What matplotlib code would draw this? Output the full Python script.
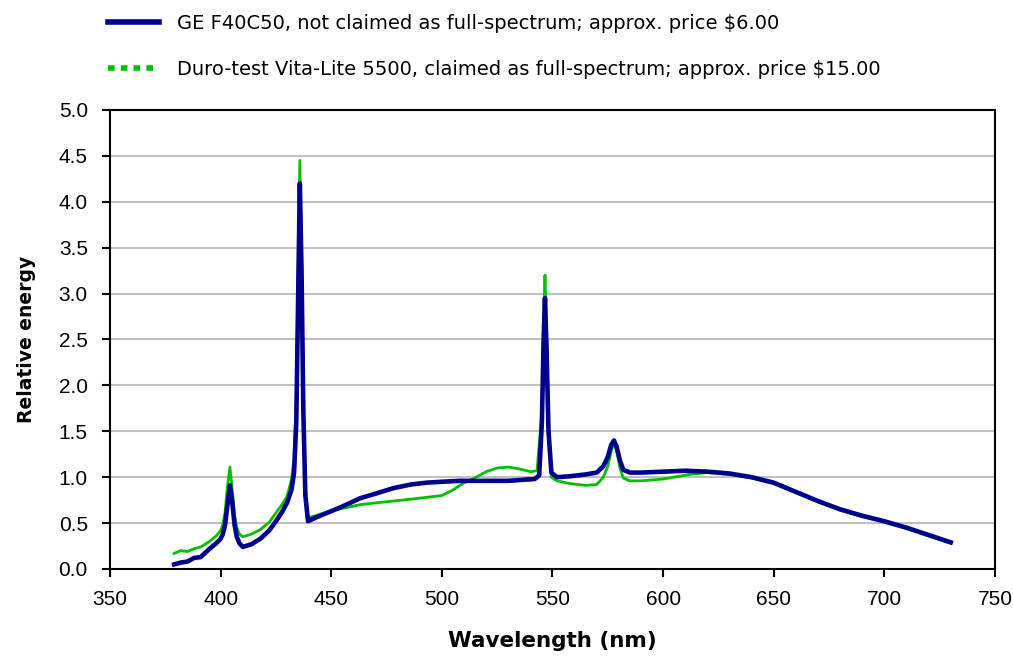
import matplotlib.pyplot as plt
from matplotlib.lines import Line2D

plt.rcParams['font.family'] = ['Liberation Sans', 'DejaVu Sans']

# GE F40C50 (not full-spectrum)
ge_nm = [379, 382, 385, 388, 391, 395, 398, 400, 401, 402, 403, 404.2, 405.3, 406.3, 407.3, 408.5, 410,
         414, 418, 422, 425, 428, 430, 432, 433.2, 434.2, 435, 435.8, 436.6, 437.4, 438.3, 439.5,
         443, 448, 455, 463, 470, 478, 486, 493, 500, 508, 515, 522, 530, 536, 542, 544, 545.2, 546,
         546.6, 547.3, 548.2, 549.5, 552, 558, 565, 570, 573, 575, 576.5, 577.8, 579, 580.5, 582, 585,
         590, 600, 610, 620, 630, 640, 650, 660, 670, 680, 690, 700, 710, 720, 730]
ge_energy = [0.05, 0.07, 0.08, 0.12, 0.13, 0.22, 0.28, 0.33, 0.38, 0.48, 0.68, 0.91, 0.72, 0.48, 0.35, 0.28, 0.24,
             0.27, 0.33, 0.42, 0.52, 0.63, 0.72, 0.86, 1.05, 1.6, 2.9, 4.2, 3.2, 1.7, 0.8, 0.52,
             0.56, 0.61, 0.68, 0.77, 0.82, 0.88, 0.92, 0.94, 0.95, 0.96, 0.96, 0.96, 0.96, 0.97, 0.98, 1.02, 1.6, 2.5,
             2.95, 2.4, 1.5, 1.05, 1.0, 1.01, 1.03, 1.05, 1.12, 1.22, 1.35, 1.40, 1.33, 1.18, 1.08, 1.05,
             1.05, 1.06, 1.07, 1.06, 1.04, 1.0, 0.94, 0.84, 0.74, 0.65, 0.58, 0.52, 0.45, 0.37, 0.29]

# Duro-test Vita-Lite 5500 (full-spectrum)
vl_nm = [379, 382, 385, 388, 391, 395, 398, 400, 401, 402, 403, 404.2, 405.3, 406.3, 407.3, 408.5, 410,
         414, 418, 422, 425, 428, 430, 432, 433.2, 434.2, 435, 435.8, 436.6, 437.4, 438.3, 439.5,
         443, 448, 455, 463, 470, 478, 486, 493, 500, 505, 510, 514, 520, 525, 530, 535, 540, 543, 545.2, 546,
         546.6, 547.3, 548.2, 549.5, 552, 558, 565, 570, 573, 575, 576.5, 577.8, 579, 580.5, 582, 585,
         590, 600, 605, 612, 620, 630, 640, 650, 660, 670, 680, 690, 700, 710, 720, 730]
vl_energy = [0.17, 0.20, 0.19, 0.22, 0.24, 0.30, 0.36, 0.42, 0.48, 0.62, 0.88, 1.11, 0.85, 0.58, 0.45, 0.38, 0.35,
             0.38, 0.43, 0.51, 0.61, 0.71, 0.79, 0.97, 1.2, 1.9, 3.2, 4.45, 3.4, 1.8, 0.85, 0.56,
             0.58, 0.62, 0.66, 0.70, 0.72, 0.74, 0.76, 0.78, 0.80, 0.86, 0.94, 0.98, 1.06, 1.10, 1.11, 1.09, 1.06, 1.07, 1.7, 2.7,
             3.2, 2.6, 1.6, 1.0, 0.96, 0.93, 0.91, 0.92, 1.0, 1.12, 1.28, 1.37, 1.28, 1.1, 0.99, 0.96,
             0.96, 0.98, 1.0, 1.03, 1.05, 1.03, 0.99, 0.93, 0.83, 0.73, 0.64, 0.57, 0.51, 0.44, 0.36, 0.28]

ge_label = 'GE F40C50, not claimed as full-spectrum; approx. price $6.00'
vl_label = 'Duro-test Vita-Lite 5500, claimed as full-spectrum; approx. price $15.00'

blue = '#00008C'
green = '#00C000'

fig = plt.figure(figsize=(10.13, 6.57), dpi=100)
ax = fig.add_axes([0.1086, 0.134, 0.8736, 0.6986])

ax.plot(vl_nm, vl_energy, color=green, lw=2, zorder=3)
ax.plot(ge_nm, ge_energy, color=blue, lw=3.3, zorder=4)

ax.set_xlim(350, 750)
ax.set_ylim(0, 5)
ax.set_xticks(range(350, 751, 50))
ax.set_yticks([i * 0.5 for i in range(11)])
ax.set_yticklabels([f'{i * 0.5:.1f}' for i in range(11)])
ax.yaxis.grid(True, color='#C0C0C0', lw=1.5)
ax.set_axisbelow(True)
ax.tick_params(direction='out', length=6, width=1.5, labelsize=15)
ax.tick_params(axis='x', pad=9)
ax.tick_params(axis='y', pad=10)
for s in ax.spines.values():
    s.set_linewidth(1.5)

ax.set_xlabel('Wavelength (nm)', fontsize=15.5, fontweight='bold', family='DejaVu Sans', labelpad=16)
ax.set_ylabel('Relative energy', fontsize=13.5, fontweight='bold', family='DejaVu Sans', labelpad=16)

handles = [Line2D([], [], color=blue, lw=4),
           Line2D([], [], color=green, lw=4, linestyle=(0, (1.2, 1.1)))]
fig.legend(handles, [ge_label, vl_label], loc='upper left', bbox_to_anchor=(108 / 1013, 1 - 14 / 657),
           frameon=False, borderpad=0, borderaxespad=0,
           prop={'family': 'DejaVu Sans', 'size': 14},
           handlelength=2.6, handletextpad=0.95, labelspacing=1.4)

fig.savefig('out.png', dpi=100)
